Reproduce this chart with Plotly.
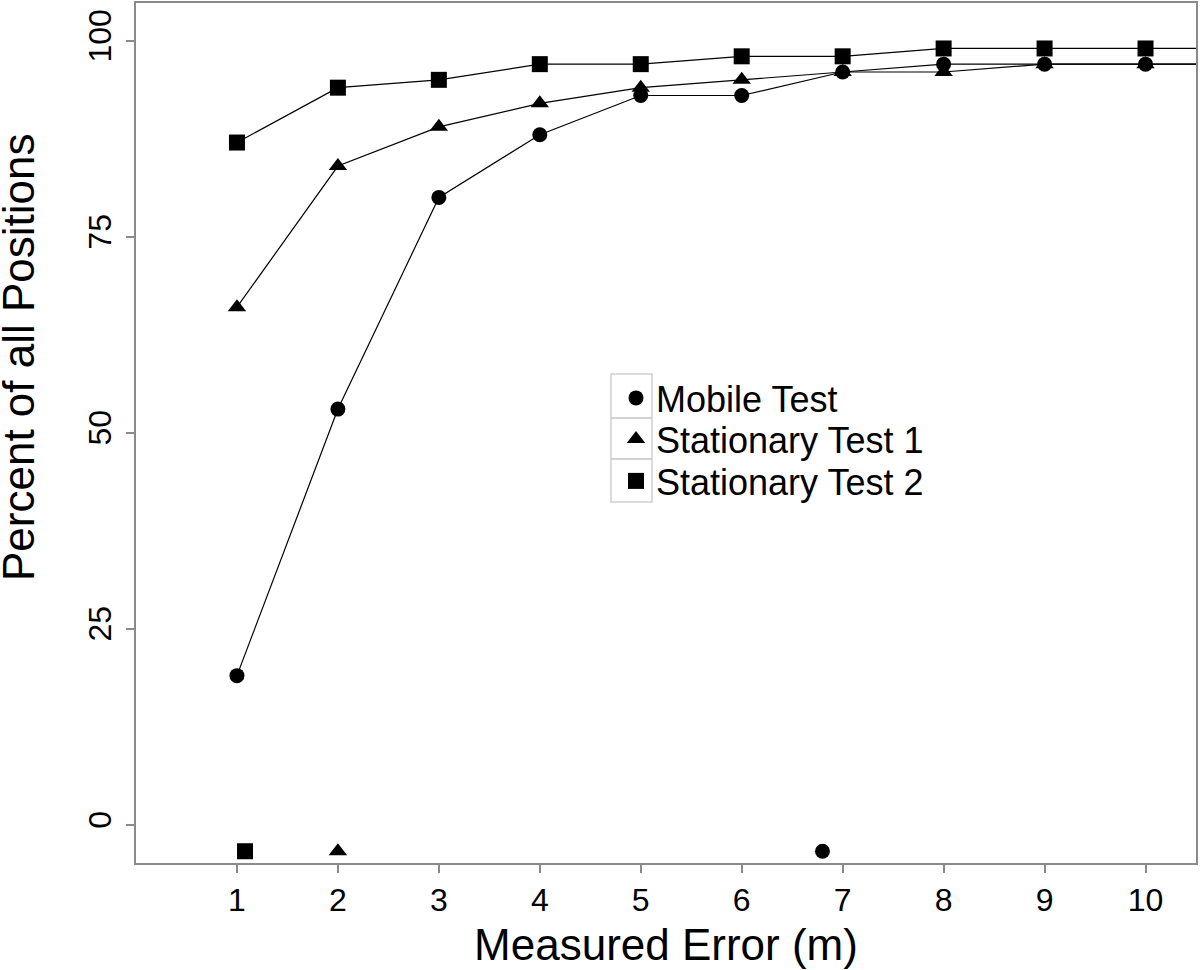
import plotly.graph_objects as go

# ---- data ----
error_m = [1, 2, 3, 4, 5, 6, 7, 8, 9, 10]
mobile_test = [19, 53, 80, 88, 93, 93, 96, 97, 97, 97]
stationary_test_1 = [66, 84, 89, 92, 94, 95, 96, 96, 97, 97]
stationary_test_2 = [87, 94, 95, 97, 97, 98, 98, 99, 99, 99]

series_names = ["Mobile Test", "Stationary Test 1", "Stationary Test 2"]
series_symbols = ["circle", "triangle-up", "square"]
series_sizes = [15, 16, 16]
# summary markers drawn below zero
summary_x = [6.8, 2.0, 1.08]
summary_y = [-3.4, -3.4, -3.4]

x_ticks = [1, 2, 3, 4, 5, 6, 7, 8, 9, 10]
y_ticks = [0, 25, 50, 75, 100]
X_RANGE = [0, 10.5]
Y_RANGE = [-4.9, 104.8]

FONT = "Liberation Sans, Arial, Helvetica, sans-serif"
GRAY = "#8a8a8a"

# plot-area geometry in pixels (for placing legend cells)
PL, PR, PT, PB = 136, 1196, 3, 863
PW, PH = PR - PL, PB - PT


def px_to_paper_x(px):
    return (px - PL) / PW


def px_to_paper_y(py):
    return (PB - py) / PH


fig = go.Figure()
series_values = [mobile_test, stationary_test_1, stationary_test_2]
legend_ids = ["legend", "legend2", "legend3"]

for name, vals, sym, sz, lg in zip(series_names, series_values, series_symbols, series_sizes, legend_ids):
    # connecting line, continued to the right edge of the plot
    fig.add_trace(go.Scatter(
        x=error_m + [X_RANGE[1]], y=vals + [vals[-1]], mode="lines",
        line=dict(color="black", width=1.2), showlegend=False, hoverinfo="skip",
    ))
    fig.add_trace(go.Scatter(
        x=error_m, y=vals, mode="markers", name=name, legend=lg,
        marker=dict(symbol=sym, size=sz, color="black"),
    ))

for name, sx, sy, sym, sz in zip(series_names, summary_x, summary_y, series_symbols, series_sizes):
    fig.add_trace(go.Scatter(
        x=[sx], y=[sy], mode="markers", showlegend=False,
        marker=dict(symbol=sym, size=sz, color="black"), name=name,
    ))

axis_common = dict(
    showgrid=False, zeroline=False, showline=True, linecolor=GRAY, linewidth=2,
    mirror=True, ticks="outside", ticklen=8, tickwidth=2, tickcolor=GRAY,
    tickfont=dict(family=FONT, size=32, color="black"), automargin=False,
)

fig.update_xaxes(range=X_RANGE, tickvals=x_ticks, ticklabelstandoff=0,
                 title=dict(text="Measured Error (m)", font=dict(family=FONT, size=44, color="black"), standoff=12),
                 **axis_common)
fig.update_yaxes(range=Y_RANGE, tickvals=y_ticks, tickangle=-90, ticklabelstandoff=2,
                 **axis_common)

fig.add_annotation(text="Percent of all Positions", textangle=-90, xref="paper", yref="paper",
                   x=px_to_paper_x(18), y=px_to_paper_y(357), xanchor="center", yanchor="middle",
                   showarrow=False, font=dict(family=FONT, size=44, color="black"))

# legend cell borders
cell_edges = [374, 418, 459, 502]
for top, bot in zip(cell_edges[:-1], cell_edges[1:]):
    fig.add_shape(type="rect", xref="paper", yref="paper",
                  x0=px_to_paper_x(611), x1=px_to_paper_x(652),
                  y0=px_to_paper_y(bot), y1=px_to_paper_y(top),
                  line=dict(color="#cfcfcf", width=1.5), layer="below")

legend_style = dict(xanchor="left", yanchor="middle", font=dict(family=FONT, size=36, color="black"),
                    bgcolor="rgba(0,0,0,0)", itemwidth=30)
row_centers = [398, 439, 481]
legend_left = 616

fig.update_layout(
    width=1200, height=970,
    margin=dict(l=PL, r=1200 - PR, t=PT, b=970 - PB),
    paper_bgcolor="white", plot_bgcolor="white",
    showlegend=True,
    legend=dict(x=px_to_paper_x(legend_left), y=px_to_paper_y(row_centers[0]), **legend_style),
    legend2=dict(x=px_to_paper_x(legend_left), y=px_to_paper_y(row_centers[1]), **legend_style),
    legend3=dict(x=px_to_paper_x(legend_left), y=px_to_paper_y(row_centers[2]), **legend_style),
)

fig.write_html("out.html", config={"displayModeBar": False},
               post_script="document.body.style.margin='0';")
